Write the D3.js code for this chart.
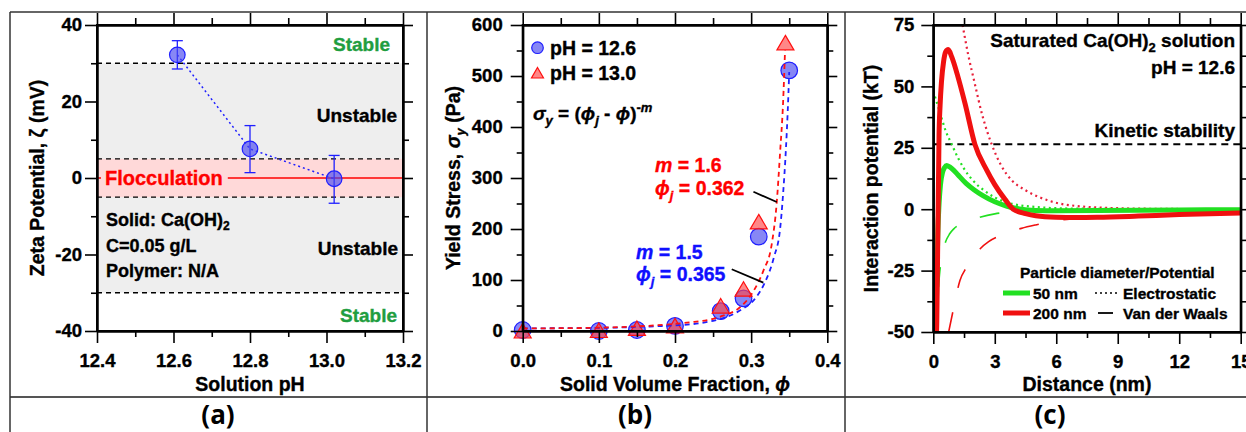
<!DOCTYPE html>
<html>
<head>
<meta charset="utf-8">
<script src="https://cdn.jsdelivr.net/npm/d3@7"></script>
<style>
  body { margin: 0; background: #fff; }
  text { font-family: "Liberation Sans", Arial, sans-serif; font-weight: bold; }
</style>
</head>
<body>
<div id="chart"></div>
<script>
// ---- panel (a): zeta potential vs pH
var phA = [12.61, 12.80, 13.02];
var zeta = [32.2, 7.6, -0.2];
var zetaHi = [35.9, 13.7, 5.9];
var zetaLo = [28.5, 1.4, -6.6];
var zoneLines = [30, 5, -5, -30];

// ---- panel (b): yield stress vs solid volume fraction
var phi126 = [0.0, 0.1, 0.15, 0.2, 0.26, 0.29, 0.31, 0.35];
var stress126 = [2, 0, 2, 10, 39, 64, 185, 511];
var phi130 = [0.0, 0.1, 0.15, 0.2, 0.26, 0.29, 0.31, 0.345];
var stress130 = [-2, -1, 3, 8, 47, 80, 212, 563];
// fitted curves
var fitPhi130 = [0, 0.05, 0.1, 0.15, 0.2, 0.22, 0.25, 0.263, 0.285, 0.303, 0.316, 0.327, 0.3335, 0.338, 0.342, 0.3445];
var fit130 = [5, 5.5, 6.5, 9, 14, 17, 24, 30, 46, 78, 118, 170, 250, 350, 450, 550];
var fitPhi126 = [0, 0.05, 0.1, 0.15, 0.2, 0.22, 0.25, 0.263, 0.285, 0.307, 0.318, 0.33, 0.338, 0.342, 0.3457, 0.348, 0.35];
var fit126 = [5, 5.5, 6, 8, 11, 13, 20, 25, 40, 67, 95, 145, 200, 270, 358, 430, 508];

// ---- panel (c): interaction potential vs distance
var tot50X = [0.12, 0.17, 0.22, 0.28, 0.35, 0.45, 0.55, 0.65, 0.8, 1.0, 1.2, 1.6, 2.0, 2.4, 3.0, 3.6, 4.2, 5, 6, 8, 10, 12, 15];
var tot50Y = [-52, -30, -10, 2, 10, 15, 17, 17.8, 17.2, 15.8, 14, 10.5, 7.8, 5.6, 3, 1.2, 0.1, -0.5, -0.6, -0.5, -0.4, -0.3, -0.2];
var tot200X = [0.15, 0.17, 0.2, 0.24, 0.28, 0.33, 0.4, 0.5, 0.6, 0.73, 0.9, 1.2, 1.55, 2.03, 2.6, 3.0, 3.5, 3.9, 4.5, 5, 6, 7, 8, 10, 12, 15];
var tot200Y = [-52, -46, -25, 2, 30, 42, 52, 60, 64, 65, 62, 54, 43, 26.4, 16, 10, 4, 0, -1.8, -2.7, -3.3, -3.4, -3.3, -2.8, -2.2, -1.5];
var el50X = [0, 0.3, 0.6, 0.9, 1.2, 1.5, 1.9, 2.5, 3, 3.5, 4, 5, 6, 8, 10, 15];
var el50Y = [48, 40, 32, 26.4, 21, 16.5, 12, 7.5, 4.8, 3, 1.9, 0.9, 0.4, 0.15, 0.05, 0];
var el200X = [1.43, 1.7, 2.0, 2.4, 2.85, 3.3, 3.8, 4.5, 5.2, 6.1, 7, 8, 9, 11, 13, 15];
var el200Y = [75, 63, 52, 38, 26.4, 18, 12, 7.7, 4.8, 2.4, 1.3, 0.7, 0.4, 0.15, 0.05, 0];
var vdw50X = [0.16, 0.2, 0.3, 0.4, 0.6, 0.8, 1, 1.5, 2, 3, 4, 5, 6, 8, 10, 15];
var vdw50Y = [-50, -40, -27, -20, -13.3, -10, -8, -5.5, -4, -1.9, -1.0, -0.8, -0.6, -0.4, -0.3, -0.2];
var vdw200X = [0.75, 1, 1.3, 1.6, 1.9, 2.3, 2.7, 3.2, 3.7, 4.3, 5, 6, 7, 8, 10, 12, 15];
var vdw200Y = [-50, -40, -29, -24, -20.5, -16, -13.2, -11, -9.2, -7.8, -6.4, -4.6, -3.8, -3.2, -2.4, -1.9, -1.4];
var kinetic = 26.4;

var W = 1246, H = 432;
var svg = d3.select("#chart").append("svg").attr("width", W).attr("height", H);

// table frame
var frameColor = "#333";
svg.append("line").attr("x1", 10).attr("x2", W).attr("y1", 12).attr("y2", 12)
  .style("stroke", frameColor).style("stroke-width", 1.5);
svg.append("line").attr("x1", 10).attr("x2", W).attr("y1", 397).attr("y2", 397)
  .style("stroke", "#555").style("stroke-width", 2);
[10, 427, 845].forEach(function(x) {
  svg.append("line").attr("x1", x).attr("x2", x).attr("y1", 12).attr("y2", H)
    .style("stroke", frameColor).style("stroke-width", 1.5);
});

// axes helper: outward ticks on all four sides, labels bottom/left
function axes(g, x, y, o) {
  var x0 = x.range()[0], x1 = x.range()[1], y0 = y.range()[0], y1 = y.range()[1];
  function style(a) {
    a.selectAll("path").style("stroke", "#000").style("stroke-width", 2);
    a.selectAll("line").style("stroke", "#000").style("stroke-width", 1.6);
    a.selectAll("text").style("font-size", "18.5px").style("fill", "#000")
      .style("stroke", "#000").style("stroke-width", 0.35)
      .style("font-family", '"Liberation Sans", Arial, sans-serif').style("font-weight", "bold");
  }
  g.append("g").attr("transform", "translate(0," + y0 + ")")
    .call(d3.axisBottom(x).tickValues(o.xMajor).tickSize(12).tickSizeOuter(0).tickPadding(11).tickFormat(o.xFmt)).call(style);
  g.append("g").attr("transform", "translate(0," + y0 + ")")
    .call(d3.axisBottom(x).tickValues(o.xMinor).tickSize(6).tickSizeOuter(0).tickFormat("")).call(style);
  g.append("g").attr("transform", "translate(0," + y1 + ")")
    .call(d3.axisTop(x).tickValues(o.xMajor).tickSize(12).tickSizeOuter(0).tickFormat("")).call(style);
  g.append("g").attr("transform", "translate(0," + y1 + ")")
    .call(d3.axisTop(x).tickValues(o.xMinor).tickSize(7).tickSizeOuter(0).tickFormat("")).call(style);
  g.append("g").attr("transform", "translate(" + x0 + ",0)")
    .call(d3.axisLeft(y).tickValues(o.yMajor).tickSize(12).tickSizeOuter(0).tickPadding(o.yPad).tickFormat(o.yFmt)).call(style);
  g.append("g").attr("transform", "translate(" + x0 + ",0)")
    .call(d3.axisLeft(y).tickValues(o.yMinor).tickSize(6).tickSizeOuter(0).tickFormat("")).call(style);
  g.append("g").attr("transform", "translate(" + x1 + ",0)")
    .call(d3.axisRight(y).tickValues(o.yMajor).tickSize(10).tickSizeOuter(0).tickFormat("")).call(style);
  g.append("g").attr("transform", "translate(" + x1 + ",0)")
    .call(d3.axisRight(y).tickValues(o.yMinor).tickSize(6).tickSizeOuter(0).tickFormat("")).call(style);
  g.append("rect").attr("x", x0).attr("y", y1).attr("width", x1 - x0).attr("height", y0 - y1)
    .style("fill", "none").style("stroke", "#000").style("stroke-width", 2);
}

function label(g, str, x, y, anchor, color, size) {
  return g.append("text").attr("x", x).attr("y", y).attr("text-anchor", anchor || "start")
    .style("fill", color || "#000").style("stroke", color || "#000").style("stroke-width", 0.35)
    .style("font-size", (size || 19) + "px").text(str);
}

function yTitle(g, x, y) {
  return g.append("text").attr("transform", "translate(" + x + "," + y + ") rotate(-90)")
    .attr("text-anchor", "middle").style("font-size", "19.5px")
    .style("stroke", "#000").style("stroke-width", 0.35);
}

var blue = "#1f1fff", blueFill = "rgba(70,70,240,0.65)";
var red = "#ff1010", redFill = "rgba(255,70,70,0.65)";

// ================= panel (a)
var gA = svg.append("g");
var xA = d3.scaleLinear().domain([12.4, 13.2]).range([97, 403]);
var yA = d3.scaleLinear().domain([-40, 40]).range([331, 25]);

gA.append("rect").attr("x", xA(12.4)).attr("width", xA(13.2) - xA(12.4))
  .attr("y", yA(30)).attr("height", yA(-30) - yA(30)).style("fill", "#eeeeee");
gA.append("rect").attr("x", xA(12.4)).attr("width", xA(13.2) - xA(12.4))
  .attr("y", yA(5)).attr("height", yA(-5) - yA(5)).style("fill", "#ffd9d9");
gA.selectAll("line.zone").data(zoneLines).enter().append("line")
  .attr("x1", xA(12.4)).attr("x2", xA(13.2))
  .attr("y1", function(d) { return yA(d); }).attr("y2", function(d) { return yA(d); })
  .style("stroke", "#000").style("stroke-width", 1.4).style("stroke-dasharray", "5,4");
gA.append("line").attr("x1", xA(12.4)).attr("x2", xA(13.2)).attr("y1", yA(0)).attr("y2", yA(0))
  .style("stroke", "#ff0000").style("stroke-width", 1.6);

var floc = label(gA, "Flocculation", 105, yA(0) + 7, "start", "#ff0000", 20);
var bb = floc.node().getBBox();
gA.insert("rect", "text").attr("x", bb.x - 4).attr("y", yA(0) - 3).attr("width", bb.width + 9).attr("height", 6)
  .style("fill", "#ffd9d9");

label(gA, "Stable", 390, 50.5, "end", "#1f9e3f");
label(gA, "Unstable", 397, 121.5, "end");
label(gA, "Unstable", 398, 255, "end");
label(gA, "Stable", 397, 321.5, "end", "#1f9e3f");
var solid = label(gA, "Solid: Ca(OH)", 106, 226, "start", "#000", 18);
solid.append("tspan").attr("dy", 4).style("font-size", "12px").text("2");
label(gA, "C=0.05 g/L", 106, 251.5, "start", "#000", 18);
label(gA, "Polymer: N/A", 106, 277, "start", "#000", 18);

var ptsA = d3.range(phA.length);
gA.append("path").datum(ptsA)
  .attr("d", d3.line().x(function(i) { return xA(phA[i]); }).y(function(i) { return yA(zeta[i]); }))
  .style("fill", "none").style("stroke", blue).style("stroke-width", 1.5).style("stroke-dasharray", "2,3");
ptsA.forEach(function(i) {
  var cx = xA(phA[i]);
  gA.append("line").attr("x1", cx).attr("x2", cx).attr("y1", yA(zetaHi[i])).attr("y2", yA(zetaLo[i]))
    .style("stroke", blue).style("stroke-width", 1.3);
  [zetaHi[i], zetaLo[i]].forEach(function(v) {
    gA.append("line").attr("x1", cx - 5.5).attr("x2", cx + 5.5).attr("y1", yA(v)).attr("y2", yA(v))
      .style("stroke", blue).style("stroke-width", 1.3);
  });
});
gA.selectAll("circle").data(ptsA).enter().append("circle")
  .attr("cx", function(i) { return xA(phA[i]); }).attr("cy", function(i) { return yA(zeta[i]); })
  .attr("r", 7.8).style("fill", blueFill).style("stroke", blue).style("stroke-width", 1.2);

axes(gA, xA, yA, {
  xMajor: [12.4, 12.6, 12.8, 13.0, 13.2], xMinor: [12.5, 12.7, 12.9, 13.1], xFmt: d3.format(".1f"),
  yMajor: [-40, -20, 0, 20, 40], yMinor: [-30, -10, 10, 30], yFmt: function(d) { return String(d); }, yPad: 3
});
label(gA, "Solution pH", 250, 390.5, "middle", "#000", 19.5);
var tA = yTitle(gA, 43.5, 178);
tA.text("Zeta Potential, \u03b6 (mV)");

// ================= panel (b)
var gB = svg.append("g");
var xB = d3.scaleLinear().domain([0, 0.4]).range([522.7, 827.3]);
var yB = d3.scaleLinear().domain([0, 600]).range([331, 25]);

gB.selectAll("circle.p126").data(d3.range(phi126.length)).enter().append("circle")
  .attr("cx", function(i) { return xB(phi126[i]); }).attr("cy", function(i) { return yB(stress126[i]); })
  .attr("r", 8.3).style("fill", blueFill).style("stroke", blue).style("stroke-width", 1.2);
var tri = "M0,-8.5 L8.5,6 L-8.5,6 Z";
gB.selectAll("path.p130").data(d3.range(phi130.length)).enter().append("path")
  .attr("d", tri)
  .attr("transform", function(i) { return "translate(" + xB(phi130[i]) + "," + yB(stress130[i]) + ")"; })
  .style("fill", redFill).style("stroke", red).style("stroke-width", 1.2);

var lineB = d3.line().x(function(d) { return xB(d[0]); }).y(function(d) { return yB(d[1]); }).curve(d3.curveMonotoneX);
gB.append("path").datum(d3.zip(fitPhi126, fit126)).attr("d", lineB)
  .style("fill", "none").style("stroke", blue).style("stroke-width", 1.8).style("stroke-dasharray", "5,4");
gB.append("path").datum(d3.zip(fitPhi130, fit130)).attr("d", lineB)
  .style("fill", "none").style("stroke", red).style("stroke-width", 1.8).style("stroke-dasharray", "5,4");

// leader lines to the fits
gB.append("line").attr("x1", xB(0.303)).attr("y1", yB(273)).attr("x2", xB(0.3336)).attr("y2", yB(253))
  .style("stroke", "#000").style("stroke-width", 1.8);
gB.append("line").attr("x1", xB(0.2745)).attr("y1", yB(121)).attr("x2", xB(0.316)).attr("y2", yB(95))
  .style("stroke", "#000").style("stroke-width", 1.8);

function fitLabel(x, y, color, m, phij) {
  var t1 = label(gB, "", x, y, "start", color, 19.5);
  t1.append("tspan").style("font-style", "italic").text("m");
  t1.append("tspan").text(" = " + m);
  var t2 = label(gB, "", x, y + 22.5, "start", color, 19.5);
  t2.append("tspan").style("font-style", "italic").text("\u03d5");
  t2.append("tspan").attr("dy", 5).style("font-style", "italic").style("font-size", "13px").text("j");
  t2.append("tspan").attr("dy", -5).text(" = " + phij);
}
fitLabel(655, 172, "#ff0000", "1.6", "0.362");
fitLabel(636, 258.5, "#1010ff", "1.5", "0.365");

// legend
gB.append("circle").attr("cx", 537.5).attr("cy", 47.7).attr("r", 5.8)
  .style("fill", blueFill).style("stroke", blue).style("stroke-width", 1.2);
label(gB, "pH = 12.6", 550, 54.5, "start", "#000", 19.5);
gB.append("path").attr("d", "M0,-6 L6,4.5 L-6,4.5 Z").attr("transform", "translate(537.5,73.5)")
  .style("fill", redFill).style("stroke", red).style("stroke-width", 1.2);
label(gB, "pH = 13.0", 550, 80, "start", "#000", 19.5);

var f = label(gB, "", 533, 119.5, "start", "#000", 19);
f.append("tspan").style("font-style", "italic").text("\u03c3");
f.append("tspan").attr("dy", 5).style("font-style", "italic").style("font-size", "13px").text("y");
f.append("tspan").attr("dy", -5).text(" = (");
f.append("tspan").style("font-style", "italic").text("\u03d5");
f.append("tspan").attr("dy", 5).style("font-style", "italic").style("font-size", "13px").text("j");
f.append("tspan").attr("dy", -5).text(" - ");
f.append("tspan").style("font-style", "italic").text("\u03d5");
f.append("tspan").text(")");
f.append("tspan").attr("dy", -8).style("font-size", "13px").text("-");
f.append("tspan").style("font-size", "13px").style("font-style", "italic").text("m");

axes(gB, xB, yB, {
  xMajor: [0, 0.1, 0.2, 0.3, 0.4], xMinor: [0.05, 0.15, 0.25, 0.35], xFmt: d3.format(".1f"),
  yMajor: [0, 100, 200, 300, 400, 500, 600], yMinor: [50, 150, 250, 350, 450, 550], yFmt: function(d) { return String(d); }, yPad: 8
});
var xtB = label(gB, "Solid Volume Fraction, ", 675, 391, "middle", "#000", 19.5);
xtB.append("tspan").style("font-style", "italic").text("\u03d5");
var tB = yTitle(gB, 460, 178);
tB.append("tspan").text("Yield Stress, ");
tB.append("tspan").style("font-style", "italic").text("\u03c3");
tB.append("tspan").attr("dy", 5).style("font-style", "italic").style("font-size", "13px").text("y");
tB.append("tspan").attr("dy", -5).text(" (Pa)");

// ================= panel (c)
var gC = svg.append("g");
var xC = d3.scaleLinear().domain([0, 15]).range([933.3, 1240.7]);
var yC = d3.scaleLinear().domain([-50, 75]).range([332, 25]);

svg.append("clipPath").attr("id", "clipC").append("rect")
  .attr("x", xC(0)).attr("y", yC(75)).attr("width", xC(15) - xC(0)).attr("height", yC(-50) - yC(75));
var plotC = gC.append("g").attr("clip-path", "url(#clipC)");

plotC.append("line").attr("x1", xC(0)).attr("x2", xC(15)).attr("y1", yC(kinetic)).attr("y2", yC(kinetic))
  .style("stroke", "#000").style("stroke-width", 2).style("stroke-dasharray", "7,5");

var green = "#22e022", redC = "#f01010";
var lineC = d3.line().x(function(d) { return xC(d[0]); }).y(function(d) { return yC(d[1]); }).curve(d3.curveMonotoneX);
function curveC(xs, ys, color, width, dash) {
  plotC.append("path").datum(d3.zip(xs, ys)).attr("d", lineC)
    .style("fill", "none").style("stroke", color).style("stroke-width", width)
    .style("stroke-dasharray", dash || null);
}
curveC(vdw50X, vdw50Y, green, 1.6, "20,25");
curveC(vdw200X, vdw200Y, redC, 1.6, "20,25");
curveC(el50X, el50Y, green, 2.2, "2,3.5");
curveC(el200X, el200Y, "#e8203a", 2.2, "2,3.5");
curveC(tot50X, tot50Y, green, 5);
curveC(tot200X, tot200Y, redC, 5);

label(gC, "", 1235, 46.5, "end", "#000", 19)
  .call(function(t) {
    t.append("tspan").text("Saturated Ca(OH)");
    t.append("tspan").attr("dy", 5).style("font-size", "13px").text("2");
    t.append("tspan").attr("dy", -5).text(" solution");
  });
label(gC, "pH = 12.6", 1235, 74, "end", "#000", 19);
label(gC, "Kinetic stability", 1235, 136.5, "end", "#000", 19);

// legend
label(gC, "Particle diameter/Potential", 1020, 277.5, "start", "#000", 15.5);
gC.append("line").attr("x1", 1003).attr("x2", 1030).attr("y1", 293).attr("y2", 293)
  .style("stroke", green).style("stroke-width", 5);
gC.append("line").attr("x1", 1003).attr("x2", 1030).attr("y1", 313).attr("y2", 313)
  .style("stroke", redC).style("stroke-width", 5);
label(gC, "50 nm", 1033, 298.5, "start", "#000", 15.5);
label(gC, "200 nm", 1033, 318.5, "start", "#000", 15.5);
gC.append("line").attr("x1", 1095).attr("x2", 1118).attr("y1", 293).attr("y2", 293)
  .style("stroke", "#000").style("stroke-width", 1.5).style("stroke-dasharray", "2,3");
gC.append("line").attr("x1", 1098).attr("x2", 1113).attr("y1", 313).attr("y2", 313)
  .style("stroke", "#000").style("stroke-width", 1.8);
label(gC, "Electrostatic", 1123, 298.5, "start", "#000", 15.5);
label(gC, "Van der Waals", 1123, 318.5, "start", "#000", 15.5);

axes(gC, xC, yC, {
  xMajor: [0, 3, 6, 9, 12, 15], xMinor: [1.5, 4.5, 7.5, 10.5, 13.5], xFmt: function(d) { return String(d); },
  yMajor: [-50, -25, 0, 25, 50, 75], yMinor: [-37.5, -12.5, 12.5, 37.5, 62.5], yFmt: function(d) { return String(d); }, yPad: 7
});
label(gC, "Distance (nm)", 1087, 391, "middle", "#000", 19.5);
yTitle(gC, 878, 178.5).text("Interaction potential (kT)");

// panel letters
[["(a)", 218], ["(b)", 635], ["(c)", 1050]].forEach(function(p) {
  svg.append("text").attr("x", p[1]).attr("y", 424).attr("text-anchor", "middle")
    .style("font-family", '"Open Sans", sans-serif').style("font-weight", 700).style("font-size", "26px")
    .text(p[0]);
});
</script>
</body>
</html>
